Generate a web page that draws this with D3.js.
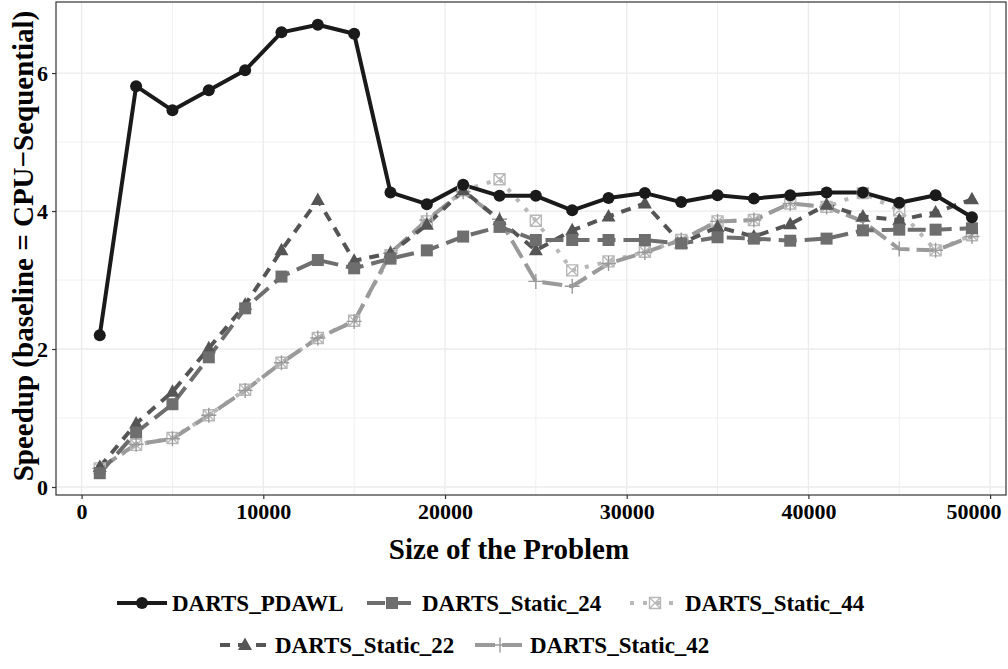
<!DOCTYPE html>
<html>
<head>
<meta charset="utf-8">
<script src="https://cdn.jsdelivr.net/npm/d3@7"></script>
<style>
  html, body { margin: 0; padding: 0; background: #fff; }
  svg text { font-family: "Liberation Serif", "DejaVu Serif", serif; font-weight: bold; fill: #000; }
</style>
</head>
<body>
<svg id="stage" width="1008" height="669"></svg>
<script>
(function(){
  const svg = d3.select("#stage");
  const FONT = '"Liberation Serif", "DejaVu Serif", serif';

  // ---- data ----
  const sizes = [1000,3000,5000,7000,9000,11000,13000,15000,17000,19000,21000,23000,25000,
                 27000,29000,31000,33000,35000,37000,39000,41000,43000,45000,47000,49000];

  const pdawl    = [2.20,5.81,5.46,5.75,6.04,6.59,6.70,6.57,4.27,4.10,4.38,4.22,4.22,
                    4.01,4.19,4.26,4.13,4.23,4.18,4.23,4.27,4.27,4.12,4.23,3.91];
  const static24 = [0.20,0.79,1.20,1.88,2.59,3.05,3.29,3.17,3.31,3.43,3.63,3.77,3.58,
                    3.58,3.58,3.58,3.53,3.62,3.60,3.57,3.60,3.72,3.73,3.73,3.75];
  const static44 = [0.27,0.61,0.71,1.04,1.41,1.80,2.16,2.41,3.36,3.85,4.30,4.46,3.86,
                    3.14,3.27,3.41,3.58,3.85,3.87,4.11,4.06,4.26,4.01,3.43,3.65];
  const static22 = [0.29,0.92,1.38,2.01,2.64,3.43,4.16,3.28,3.39,3.80,4.30,3.87,3.43,
                    3.72,3.92,4.11,3.53,3.77,3.63,3.81,4.09,3.92,3.87,3.98,4.17];
  const static42 = [0.27,0.62,0.70,1.04,1.40,1.80,2.16,2.40,3.39,3.87,4.28,3.88,2.98,
                    2.91,3.24,3.40,3.58,3.85,3.87,4.11,4.06,3.85,3.45,3.43,3.63];

  const xTicks = [0,10000,20000,30000,40000,50000];
  const yTicks = [0,2,4,6];

  const SERIES = [
    { name:"DARTS_PDAWL",     values:pdawl,    color:"#1a1a1a", dash:null,    shape:"circle" },
    { name:"DARTS_Static_24", values:static24, color:"#6e6e6e", dash:"18,8",  shape:"square" },
    { name:"DARTS_Static_44", values:static44, color:"#b8b8b8", dash:"4,9",   shape:"boxx" },
    { name:"DARTS_Static_22", values:static22, color:"#555555", dash:"10,8",  shape:"triangle" },
    { name:"DARTS_Static_42", values:static42, color:"#9a9a9a", dash:"20,7",  shape:"plus" }
  ];
  const DRAW_ORDER = [2,4,3,1,0];

  // ---- layout ----
  const L=56, R=1006, T=2, B=495;
  const x = d3.scaleLinear().domain([-1409, 50875]).range([L,R]);
  const y = d3.scaleLinear().domain([-0.116, 7.03]).range([B,T]);

  // grid
  const gGrid = svg.append("g");
  const xMinor = d3.range(5000, 50001, 10000);
  const yMinor = [1,3,5];
  gGrid.selectAll("line.xm").data(xMinor).join("line")
    .attr("class","xm")
    .attr("x1",d=>x(d)).attr("x2",d=>x(d)).attr("y1",T).attr("y2",B)
    .attr("stroke","#f0f0f0").attr("stroke-width",1);
  gGrid.selectAll("line.ym").data(yMinor).join("line")
    .attr("class","ym")
    .attr("x1",L).attr("x2",R).attr("y1",d=>y(d)).attr("y2",d=>y(d))
    .attr("stroke","#f0f0f0").attr("stroke-width",1);
  gGrid.selectAll("line.xM").data(xTicks).join("line")
    .attr("class","xM")
    .attr("x1",d=>x(d)).attr("x2",d=>x(d)).attr("y1",T).attr("y2",B)
    .attr("stroke","#ebebeb").attr("stroke-width",1.3);
  gGrid.selectAll("line.yM").data(yTicks).join("line")
    .attr("class","yM")
    .attr("x1",L).attr("x2",R).attr("y1",d=>y(d)).attr("y2",d=>y(d))
    .attr("stroke","#ebebeb").attr("stroke-width",1.3);

  // ---- markers ----
  function marker(g, shape, color, cx, cy){
    if(shape==="circle"){
      g.append("circle").attr("cx",cx).attr("cy",cy).attr("r",6).attr("fill",color);
    } else if(shape==="square"){
      g.append("rect").attr("x",cx-6).attr("y",cy-6).attr("width",12).attr("height",12).attr("fill",color);
    } else if(shape==="triangle"){
      g.append("path").attr("d",`M${cx},${cy-7.5}L${cx+7},${cy+5}L${cx-7},${cy+5}Z`).attr("fill",color);
    } else if(shape==="boxx"){
      g.append("path")
        .attr("d",`M${cx-5.5},${cy-5.5}h11v11h-11ZM${cx-5.5},${cy-5.5}L${cx+5.5},${cy+5.5}M${cx+5.5},${cy-5.5}L${cx-5.5},${cy+5.5}`)
        .attr("fill","none").attr("stroke",color).attr("stroke-width",1.4);
    } else if(shape==="plus"){
      g.append("path")
        .attr("d",`M${cx-7.5},${cy}H${cx+7.5}M${cx},${cy-7.5}V${cy+7.5}`)
        .attr("fill","none").attr("stroke",color).attr("stroke-width",1.4);
    }
  }

  // ---- lines ----
  const line = d3.line().x((d,i)=>x(sizes[i])).y(d=>y(d));
  const gLines = svg.append("g");
  DRAW_ORDER.forEach(k=>{
    const s = SERIES[k];
    gLines.append("path")
      .datum(s.values)
      .attr("d", line)
      .attr("fill","none")
      .attr("stroke", s.color)
      .attr("stroke-width", 4)
      .attr("stroke-linejoin","round")
      .attr("stroke-dasharray", s.dash);
  });
  const gPts = svg.append("g");
  DRAW_ORDER.forEach(k=>{
    const s = SERIES[k];
    s.values.forEach((v,i)=> marker(gPts, s.shape, s.color, x(sizes[i]), y(v)));
  });

  // panel border
  svg.append("rect").attr("x",L).attr("y",T).attr("width",R-L).attr("height",B-T)
    .attr("fill","none").attr("stroke","#333").attr("stroke-width",1.2);

  // ---- axes ----
  const xAxis = svg.append("g").attr("transform",`translate(0,${B})`)
    .call(d3.axisBottom(x).tickValues(xTicks).tickFormat(d3.format("d")).tickSize(4).tickPadding(4));
  const yAxis = svg.append("g").attr("transform",`translate(${L},0)`)
    .call(d3.axisLeft(y).tickValues(yTicks).tickFormat(d3.format("d")).tickSize(4).tickPadding(4));
  [xAxis,yAxis].forEach(a=>{
    a.select(".domain").remove();
    a.selectAll(".tick line").attr("stroke","#333").attr("stroke-width",1.2);
    a.selectAll(".tick text").attr("font-size",22).attr("fill","#000")
      .attr("font-family",FONT).attr("font-weight","bold");
  });
  yAxis.selectAll(".tick text").attr("dy","0.35em");
  // last label kept inside the picture, as in the reference
  xAxis.selectAll(".tick text").filter(d=>d===50000)
    .attr("text-anchor","end").attr("x", 1001 - x(50000));

  svg.append("text").attr("x",509).attr("y",559).attr("text-anchor","middle")
    .attr("font-family",FONT).attr("font-weight","bold")
    .attr("font-size",29).text("Size of the Problem");
  svg.append("text").attr("transform","translate(33,246) rotate(-90)").attr("text-anchor","middle")
    .attr("font-family",FONT).attr("font-weight","bold")
    .attr("font-size",29).text("Speedup (baseline = CPU\u2212Sequential)");

  // ---- legend ----
  const legendPos = [
    { k:0, x:117, y:603 },
    { k:1, x:367, y:603 },
    { k:2, x:630, y:603 },
    { k:3, x:220, y:645 },
    { k:4, x:475, y:645 }
  ];
  const gLeg = svg.append("g");
  legendPos.forEach(p=>{
    const s = SERIES[p.k];
    const g = gLeg.append("g");
    g.append("line").attr("x1",p.x).attr("x2",p.x+50).attr("y1",p.y).attr("y2",p.y)
      .attr("stroke",s.color).attr("stroke-width",4).attr("stroke-dasharray",s.dash);
    marker(g, s.shape, s.color, p.x+25, p.y);
    g.append("text").attr("x",p.x+55).attr("y",p.y).attr("dy","0.35em")
      .attr("font-family",FONT).attr("font-weight","bold")
      .attr("font-size",23).text(s.name);
  });
})();
</script>
</body>
</html>
